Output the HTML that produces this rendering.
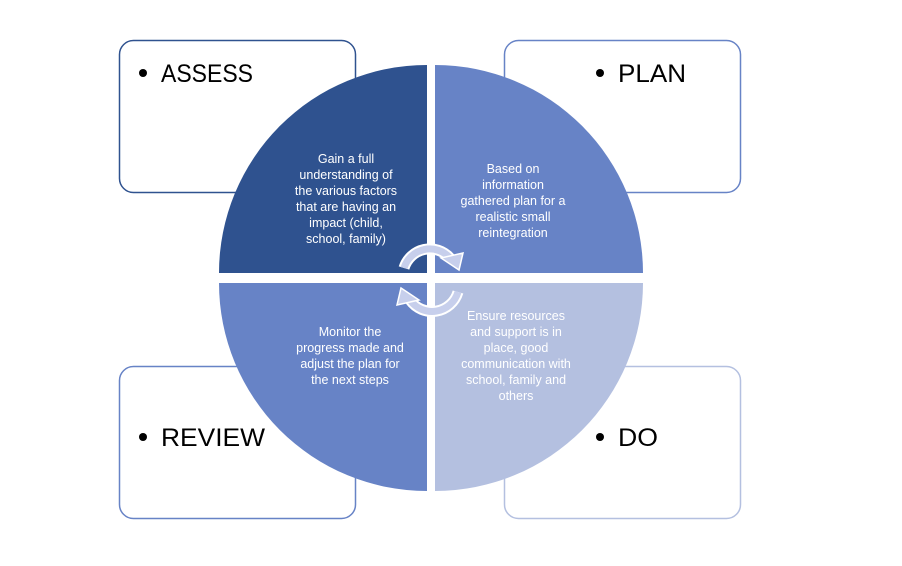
<!DOCTYPE html>
<html><head><meta charset="utf-8"><style>
body{margin:0;background:#fff;}
svg{display:block;font-family:"Liberation Sans",sans-serif;}
</style></head><body>
<svg width="902" height="566" viewBox="0 0 902 566">
<rect x="119.5" y="40.5" width="236" height="152" rx="14" fill="#fff" stroke="#2f528f" stroke-width="1.5"/>
<rect x="504.5" y="40.5" width="236" height="152" rx="14" fill="#fff" stroke="#6783c6" stroke-width="1.5"/>
<rect x="119.5" y="366.5" width="236" height="152" rx="14" fill="#fff" stroke="#6783c6" stroke-width="1.5"/>
<rect x="504.5" y="366.5" width="236" height="152" rx="14" fill="#fff" stroke="#b4c0e0" stroke-width="1.5"/>
<g fill="#000">
<circle cx="143" cy="73" r="4"/>
<circle cx="600" cy="73" r="4"/>
<circle cx="143" cy="437" r="4"/>
<circle cx="600" cy="437" r="4"/>
</g>
<g font-size="25" fill="#000">
<text x="161" y="82" textLength="92" lengthAdjust="spacingAndGlyphs">ASSESS</text>
<text x="618" y="82" textLength="68" lengthAdjust="spacingAndGlyphs">PLAN</text>
<text x="161" y="446" textLength="104" lengthAdjust="spacingAndGlyphs">REVIEW</text>
<text x="618" y="446" textLength="40" lengthAdjust="spacingAndGlyphs">DO</text>
</g>
<path d="M427,273 L219,273 A208,208 0 0 1 427,65 Z" fill="#2f528f"/>
<path d="M435,273 L435,65 A208,208 0 0 1 643,273 Z" fill="#6783c6"/>
<path d="M427,283 L427,491 A208,208 0 0 1 219,283 Z" fill="#6783c6"/>
<path d="M435,283 L643,283 A208,208 0 0 1 435,491 Z" fill="#b4c0e0"/>
<g font-size="12.5" fill="#fff" text-anchor="middle">
<text x="346" y="163">Gain a full</text>
<text x="346" y="179">understanding of</text>
<text x="346" y="195">the various factors</text>
<text x="346" y="211">that are having an</text>
<text x="346" y="227">impact (child,</text>
<text x="346" y="243">school, family)</text>
<text x="513" y="173">Based on</text>
<text x="513" y="189">information</text>
<text x="513" y="205">gathered plan for a</text>
<text x="513" y="221">realistic small</text>
<text x="513" y="237">reintegration</text>
<text x="350" y="336">Monitor the</text>
<text x="350" y="352">progress made and</text>
<text x="350" y="368">adjust the plan for</text>
<text x="350" y="384">the next steps</text>
<text x="516" y="320">Ensure resources</text>
<text x="516" y="336">and support is in</text>
<text x="516" y="352">place, good</text>
<text x="516" y="368">communication with</text>
<text x="516" y="384">school, family and</text>
<text x="516" y="400">others</text>
</g>
<g fill="none" stroke-linecap="butt">
<path d="M404,268 A27,27 0 0 1 450,258" stroke="#fff" stroke-width="11"/>
<path d="M404,268 A27,27 0 0 1 450,258" stroke="#c7cfec" stroke-width="7"/>
<path d="M458,292 A27,27 0 0 1 410,300" stroke="#fff" stroke-width="11"/>
<path d="M458,292 A27,27 0 0 1 410,300" stroke="#c7cfec" stroke-width="7"/>
</g>
<polygon points="441,258 463,253 459,270" fill="#c7cfec" stroke="#fff" stroke-width="1.5"/>
<polygon points="419,300 397,305 401,288" fill="#c7cfec" stroke="#fff" stroke-width="1.5"/>
</svg>
</body></html>
